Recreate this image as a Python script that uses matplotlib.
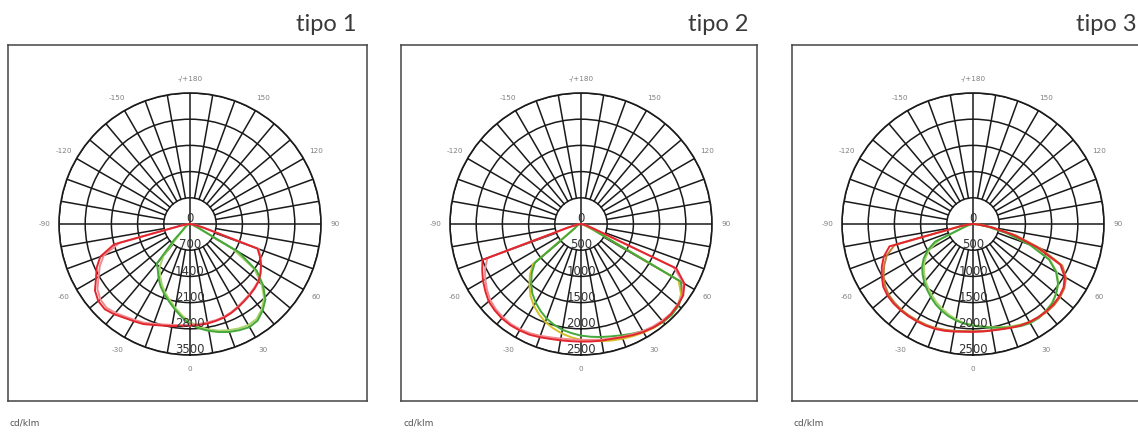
import numpy as np
import matplotlib
matplotlib.use('Agg')  # no display
import matplotlib.pyplot as plt

# image size in pixels (dpi 100)
W, H = 1138, 432

# gamma angles of the photometric data, degrees (0 = straight down)
ANGLES = list(range(-90, 95, 5))

# tipo 1, cd/klm
tipo1_red = [0, 60, 250, 2100, 2550, 2750, 2900, 3100, 3200, 3220, 3150, 3060, 3000,
             2950, 2870, 2810, 2770, 2740, 2720, 2710, 2700, 2680, 2660, 2620, 2570,
             2520, 2480, 2440, 2390, 2300, 2190, 2060, 1920, 350, 100, 30, 0]
tipo1_pink = [0, 50, 220, 1950, 2450, 2660, 2820, 3020, 3130, 3160, 3100, 3020, 2960,
              2910, 2840, 2780, 2740, 2710, 2690, 2680, 2670, 2660, 2640, 2600, 2550,
              2500, 2460, 2420, 2380, 2300, 2200, 2080, 1950, 400, 110, 30, 0]
tipo1_green = [0, 0, 20, 40, 60, 90, 130, 180, 250, 600, 1380, 1500, 1680, 1850, 2000,
               2150, 2320, 2500, 2680, 2800, 2900, 2990, 3070, 3130, 3180, 3150, 3020,
               2850, 2550, 2180, 1500, 250, 90, 40, 15, 0, 0]
tipo1_lgreen = [0, 0, 15, 30, 50, 80, 110, 160, 220, 400, 1100, 1420, 1600, 1780, 1950,
                2100, 2270, 2450, 2620, 2750, 2860, 2950, 3020, 3080, 3120, 3100, 2980,
                2800, 2500, 2100, 1300, 200, 70, 30, 10, 0, 0]

# tipo 2
tipo2_red = [0, 30, 80, 250, 2000, 2080, 2160, 2230, 2300, 2330, 2350, 2355, 2345,
             2330, 2300, 2270, 2255, 2245, 2245, 2250, 2260, 2270, 2300, 2340, 2380,
             2410, 2430, 2430, 2410, 2380, 2280, 2010, 250, 100, 40, 10, 0]
tipo2_pink = [0, 25, 70, 220, 1900, 2020, 2110, 2190, 2260, 2300, 2320, 2330, 2320,
              2300, 2270, 2240, 2220, 2210, 2210, 2220, 2240, 2260, 2290, 2320, 2360,
              2390, 2410, 2420, 2400, 2360, 2260, 1950, 230, 90, 35, 10, 0]
tipo2_green = [0, 0, 20, 40, 60, 80, 110, 150, 1150, 1330, 1480, 1620, 1730, 1830, 1920,
               1990, 2050, 2090, 2130, 2160, 2190, 2220, 2260, 2310, 2360, 2410, 2440,
               2450, 2430, 2360, 2200, 250, 100, 40, 15, 0, 0]
tipo2_yellow = [0, 0, 20, 40, 60, 90, 120, 180, 1200, 1380, 1530, 1680, 1800, 1900, 1990,
                2060, 2120, 2170, 2210, 2240, 2270, 2300, 2330, 2360, 2390, 2420, 2440,
                2450, 2420, 2330, 2150, 240, 90, 35, 12, 0, 0]

# tipo 3
tipo3_red = [0, 60, 250, 1650, 1810, 1920, 2010, 2090, 2130, 2145, 2150, 2150, 2145,
             2140, 2130, 2110, 2085, 2065, 2060, 2060, 2065, 2080, 2110, 2140, 2160,
             2170, 2175, 2170, 2150, 2110, 2020, 1840, 1300, 800, 350, 100, 0]
tipo3_orange = [0, 50, 220, 1550, 1750, 1870, 1970, 2050, 2100, 2120, 2130, 2130, 2125,
                2120, 2110, 2090, 2070, 2050, 2045, 2050, 2060, 2075, 2100, 2130, 2160,
                2180, 2190, 2190, 2170, 2130, 2050, 1880, 1380, 850, 380, 110, 0]
tipo3_green = [0, 10, 40, 100, 200, 800, 1000, 1150, 1270, 1360, 1450, 1530, 1610,
               1690, 1760, 1820, 1870, 1910, 1940, 1970, 2010, 2050, 2100, 2150, 2185,
               2190, 2170, 2140, 2070, 1980, 1830, 1600, 1150, 650, 280, 80, 0]
tipo3_lgreen = [0, 10, 30, 80, 180, 700, 950, 1100, 1220, 1320, 1410, 1490, 1570,
                1650, 1720, 1790, 1850, 1900, 1930, 1960, 2000, 2040, 2080, 2120, 2160,
                2170, 2160, 2130, 2070, 1990, 1850, 1620, 1180, 680, 300, 90, 0]

RINGS_1 = [700, 1400, 2100, 2800, 3500]
RINGS_23 = [500, 1000, 1500, 2000, 2500]

ANGLE_LABELS = {0: '0', 30: '30', 60: '60', 90: '90', 120: '120', 150: '150',
                180: '-/+180', -150: '-150', -120: '-120', -90: '-90', -60: '-60', -30: '-30'}

RED = '#e3262e'
PINK = '#f08a90'
GREEN = '#45a83a'
LGREEN = '#a8d46a'
YELLOW = '#d2c126'
ORANGE = '#c27a34'
GRID = '#1a1a1a'


def px_rect(x0, y0, x1, y1):
    """pixel box (from top-left) -> figure fractions"""
    return [x0 / W, 1 - y1 / H, (x1 - x0) / W, (y1 - y0) / H]


def draw_panel(fig, box, center, title_x, title, rings, curves):
    # outer frame
    frame = fig.add_axes(px_rect(*box))
    frame.set_xticks([])
    frame.set_yticks([])
    for sp in frame.spines.values():
        sp.set_color('#444444')
        sp.set_linewidth(1.1)

    fig.text(title_x / W, 1 - 31 / H, title, ha='right', va='baseline',
             fontsize=17, color='#3a3a3a', family='Lato')
    fig.text((box[0] + 2) / W, 1 - 423 / H, 'cd/klm', ha='left', va='center',
             fontsize=6.5, color='#555555')

    cx, cy = center
    R = 131
    ax = fig.add_axes(px_rect(cx - R, cy - R, cx + R, cy + R), projection='polar')
    ax.patch.set_alpha(0)
    ax.set_theta_zero_location('S')
    ax.set_theta_direction(1)
    rmax = rings[-1]

    # rings
    ax.set_yticks(rings)
    ax.set_yticklabels([])
    ax.yaxis.grid(True, color=GRID, linewidth=1.1)
    ax.set_xticks([])
    ax.xaxis.grid(False)
    ax.spines['polar'].set_color(GRID)
    ax.spines['polar'].set_linewidth(1.2)

    # radial lines every 10 degrees, main axes go through the centre
    for a in range(0, 360, 10):
        start = 0 if a % 90 == 0 else rings[0]
        ax.plot([np.deg2rad(a)] * 2, [start, rmax], color=GRID, lw=1.1)

    # curves
    th = np.deg2rad(ANGLES)
    for vals, col in curves:
        ax.plot(th, vals, color=col, lw=1.4)
    ax.set_ylim(0, rmax)

    # ring values along 0 deg, "0" just above the centre
    step = rings[0]
    ax.text(np.pi, 0.2 * step, '0', ha='center', va='center', fontsize=8.5, color='#333333')
    for r in rings:
        ax.text(0, r - 0.2 * step, str(r), ha='center', va='center',
                fontsize=8.5, color='#333333')

    # angle labels
    for deg, lab in ANGLE_LABELS.items():
        ax.text(np.deg2rad(deg), rmax * 1.11, lab, ha='center', va='center',
                fontsize=5.2, color='#808080')


fig = plt.figure(figsize=(W / 100, H / 100), dpi=100)

draw_panel(fig, (8, 45, 367, 401), (190, 224), 357, 'tipo 1', RINGS_1,
           [(tipo1_lgreen, LGREEN), (tipo1_green, GREEN), (tipo1_pink, PINK), (tipo1_red, RED)])
draw_panel(fig, (401, 45, 757, 401), (581, 224), 748, 'tipo 2', RINGS_23,
           [(tipo2_yellow, YELLOW), (tipo2_green, GREEN), (tipo2_pink, PINK), (tipo2_red, RED)])
draw_panel(fig, (792, 45, 1160, 401), (973, 224), 1137, 'tipo 3', RINGS_23,
           [(tipo3_lgreen, LGREEN), (tipo3_green, GREEN), (tipo3_orange, ORANGE), (tipo3_red, RED)])

plt.savefig('out.png', dpi=100)
plt.close()
